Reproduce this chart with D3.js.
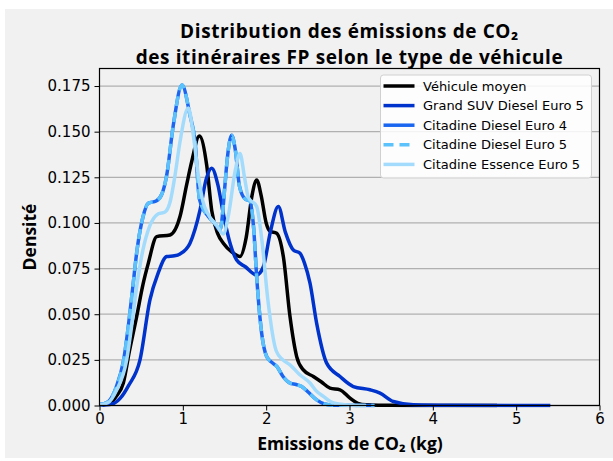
<!DOCTYPE html>
<html><head><meta charset="utf-8">
<script src="https://cdn.jsdelivr.net/npm/d3@7"></script>
<style>body{margin:0;background:#fff}svg{display:block}</style>
</head><body>
<svg id="c" width="613" height="461"></svg>
<script>
// ---- data ----
const seriesNames = ["Véhicule moyen","Grand SUV Diesel Euro 5","Citadine Diesel Euro 4","Citadine Diesel Euro 5","Citadine Essence Euro 5"];
const xTicks = [0,1,2,3,4,5,6];
const yTicks = [0,0.025,0.05,0.075,0.1,0.125,0.15,0.175];
const yTickLabels = ["0.000","0.025","0.050","0.075","0.100","0.125","0.150","0.175"];

const moyen = [[0,0.0002],[0.126,0.0013],[0.2,0.005],[0.286,0.0123],[0.36,0.03],[0.446,0.0487],[0.52,0.066],[0.586,0.078],[0.686,0.0925],[0.846,0.0934],[0.966,0.1035],[1.046,0.121],[1.106,0.1335],[1.198,0.1476],[1.286,0.1317],[1.346,0.107],[1.42,0.094],[1.486,0.0889],[1.59,0.084],[1.686,0.0816],[1.76,0.092],[1.83,0.115],[1.886,0.1235],[1.94,0.115],[2.0,0.1],[2.046,0.0955],[2.126,0.0944],[2.206,0.0816],[2.286,0.0487],[2.366,0.0268],[2.446,0.0195],[2.566,0.0159],[2.66,0.013],[2.766,0.0095],[2.886,0.0086],[3.006,0.004],[3.1,0.0012],[3.2,0.0004],[3.5,0.0001],[4.0,0.00005],[4.77,0]];
const suv = [[0,0.0001],[0.15,0.0008],[0.25,0.004],[0.35,0.011],[0.486,0.025],[0.606,0.058],[0.7,0.072],[0.806,0.0816],[0.9,0.082],[0.966,0.083],[1.086,0.0889],[1.206,0.107],[1.28,0.124],[1.346,0.13],[1.42,0.121],[1.486,0.105],[1.56,0.09],[1.646,0.0797],[1.75,0.076],[1.886,0.0715],[1.966,0.076],[2.05,0.095],[2.146,0.109],[2.23,0.095],[2.326,0.0852],[2.406,0.0834],[2.46,0.078],[2.526,0.067],[2.606,0.045],[2.726,0.0232],[2.886,0.0159],[3.046,0.0104],[3.246,0.0086],[3.366,0.0068],[3.526,0.0022],[3.766,0.0004],[4.2,0.0001],[5.41,0]];
const diesel4 = [[0,0.0005],[0.1,0.002],[0.2,0.01],[0.29,0.025],[0.35,0.045],[0.40,0.065],[0.45,0.085],[0.52,0.103],[0.585,0.1108],[0.68,0.112],[0.75,0.116],[0.806,0.126],[0.886,0.1536],[0.99,0.1755],[1.086,0.159],[1.146,0.1445],[1.2,0.113],[1.306,0.1035],[1.38,0.1],[1.446,0.096],[1.506,0.121],[1.526,0.1317],[1.586,0.148],[1.63,0.14],[1.68,0.12],[1.75,0.113],[1.806,0.112],[1.85,0.097],[1.886,0.0706],[1.946,0.0396],[2.006,0.0268],[2.07,0.0235],[2.13,0.0213],[2.2,0.016],[2.286,0.0123],[2.36,0.0115],[2.426,0.0104],[2.5,0.0075],[2.606,0.0031],[2.7,0.0008],[2.8,0.0002],[3.3,0]];
const diesel5 = diesel4.map(d => [d[0], d[1]]);
const essence = [[0,0.0003],[0.1,0.0015],[0.2,0.008],[0.326,0.025],[0.39,0.045],[0.446,0.065],[0.52,0.085],[0.6,0.098],[0.706,0.105],[0.786,0.106],[0.85,0.112],[0.906,0.126],[0.966,0.1445],[1.066,0.163],[1.126,0.148],[1.186,0.126],[1.24,0.112],[1.3,0.105],[1.4,0.099],[1.486,0.094],[1.55,0.105],[1.626,0.128],[1.686,0.138],[1.74,0.125],[1.786,0.114],[1.886,0.109],[1.95,0.09],[2.02,0.058],[2.12,0.03],[2.2,0.025],[2.286,0.0223],[2.4,0.017],[2.526,0.0123],[2.6,0.008],[2.686,0.005],[2.8,0.0015],[2.97,0.0003],[3.2,0]];

const seriesData = [moyen, suv, diesel4, diesel5, essence];
const colors = ["#000000","#0033cc","#1a66f0","#5cc2fb","#a3dbfc"];
const dashes = [null,null,null,"10,6",null];

// ---- layout ----
const svg = d3.select("#c");
const L = 99.5, R = 599.5, T = 68.5, B = 405.5;
const x = d3.scaleLinear().domain([0,6]).range([L,R]);
const y = d3.scaleLinear().domain([0,0.1846]).range([B,T]);

svg.append("rect").attr("x",5).attr("y",9).attr("width",608).attr("height",449).attr("fill","#f1f1f1");

// grid
svg.append("g").selectAll("line").data(yTicks).join("line")
  .attr("x1",L).attr("x2",R).attr("y1",d=>y(d)).attr("y2",d=>y(d))
  .attr("stroke","#b0b0b0").attr("stroke-width",1.3);

svg.append("defs").append("clipPath").attr("id","clip").append("rect")
  .attr("x",L).attr("y",T).attr("width",R-L).attr("height",B-T+2);

const line = d3.line().x(d=>x(d[0])).y(d=>y(d[1])).curve(d3.curveMonotoneX);
const g = svg.append("g").attr("clip-path","url(#clip)");
seriesData.forEach((s,i)=>{
  g.append("path").attr("d",line(s)).attr("fill","none")
   .attr("stroke",colors[i]).attr("stroke-width",3.5)
   .attr("stroke-dasharray",dashes[i]).attr("stroke-linejoin","round");
});

// spines
svg.append("rect").attr("x",L).attr("y",T).attr("width",R-L).attr("height",B-T)
  .attr("fill","none").attr("stroke","#000").attr("stroke-width",1.2);

// axes
const yAxis = d3.axisLeft(y).tickValues(yTicks).tickFormat((d,i)=>yTickLabels[i]).tickSize(5).tickPadding(4);
const ya = svg.append("g").attr("transform",`translate(${L},0)`).call(yAxis);
const xAxis = d3.axisBottom(x).tickValues(xTicks).tickFormat(d3.format("d")).tickSize(5).tickPadding(3);
const xa = svg.append("g").attr("transform",`translate(0,${B})`).call(xAxis);
[ya,xa].forEach(a=>{
  a.select(".domain").remove();
  a.selectAll("text").attr("font-family","DejaVu Sans").attr("font-size",15).attr("fill","#000");
  a.selectAll("line").attr("stroke","#000").attr("stroke-width",1);
});

// titles
const tf = "'Open Sans', sans-serif";
svg.append("text").attr("x",349.5).attr("y",38).attr("text-anchor","middle")
  .attr("font-family",tf).attr("font-weight","bold").attr("font-size",19).attr("letter-spacing",0.6)
  .text("Distribution des émissions de CO₂");
svg.append("text").attr("x",349.5).attr("y",64).attr("text-anchor","middle")
  .attr("font-family",tf).attr("font-weight","bold").attr("font-size",19).attr("letter-spacing",0.6)
  .text("des itinéraires FP selon le type de véhicule");
svg.append("text").attr("x",350).attr("y",450).attr("text-anchor","middle")
  .attr("font-family",tf).attr("font-weight","bold").attr("font-size",17.5)
  .text("Emissions de CO₂ (kg)");
svg.append("text").attr("transform","translate(36,237) rotate(-90)").attr("text-anchor","middle")
  .attr("font-family",tf).attr("font-weight","bold").attr("font-size",17.5)
  .text("Densité");

// legend
const lg = svg.append("g");
lg.append("rect").attr("x",380.5).attr("y",75).attr("width",211).attr("height",103).attr("rx",3)
  .attr("fill","#ffffff").attr("fill-opacity",0.85).attr("stroke","#d0d0d0").attr("stroke-width",1);
seriesNames.forEach((n,i)=>{
  const yy = 86 + i*19.6;
  lg.append("line").attr("x1",383.5).attr("x2",414.5).attr("y1",yy).attr("y2",yy)
    .attr("stroke",colors[i]).attr("stroke-width",3.5).attr("stroke-dasharray",dashes[i]);
  lg.append("text").attr("x",423).attr("y",yy+4.6).attr("font-family","DejaVu Sans").attr("font-size",13)
    .attr("fill","#000").text(n);
});
</script>
</body></html>
